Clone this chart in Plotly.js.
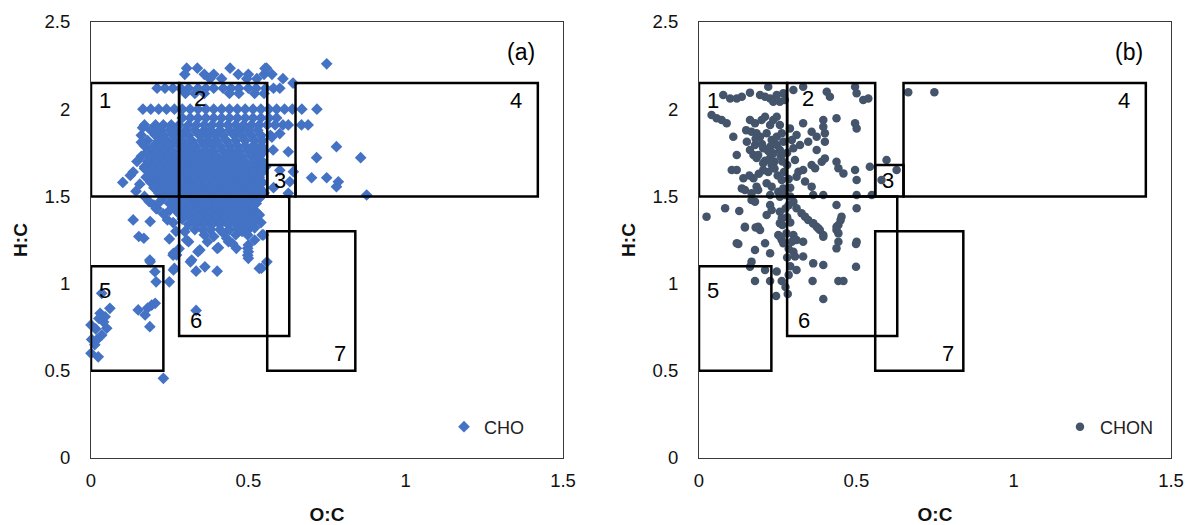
<!DOCTYPE html>
<html>
<head>
<meta charset="utf-8">
<script src="https://cdn.plot.ly/plotly-3.0.1.min.js"></script>
<style>html,body{margin:0;padding:0;background:#fff;}#chart{width:1191px;height:525px;}</style>
</head>
<body>
<div id="chart"></div>
<script>
// ---- Van Krevelen region boxes (O:C, H:C) ----
var boxX0 = [0, 0.28, 0.56, 0.65, 0, 0.28, 0.56];
var boxX1 = [0.28, 0.56, 0.65, 1.42, 0.23, 0.63, 0.84];
var boxY0 = [1.5, 1.5, 1.5, 1.5, 0.5, 0.7, 0.5];
var boxY1 = [2.15, 2.15, 1.68, 2.15, 1.1, 1.5, 1.3];
var boxLabels = ["1", "2", "3", "4", "5", "6", "7"];
var boxLabelX = [0.045, 0.345, 0.6, 1.35, 0.045, 0.333, 0.79];
var boxLabelY = [2.05, 2.06, 1.59, 2.05, 0.96, 0.79, 0.6];

// ---- CHO (a): rows of points [H:C, [O:C values]] ----
var choStripeRows = [
  [2.26, [0.749]],
  [2.235, [0.304, 0.338, 0.442, 0.558]],
  [2.2, [0.298, 0.36, 0.39, 0.468, 0.5, 0.55, 0.575]],
  [2.175, [0.378, 0.415, 0.495, 0.527, 0.61]],
  [2.15, [0.642]],
  [2.12, [0.21, 0.235, 0.26, 0.285, 0.31, 0.34, 0.365, 0.39, 0.42, 0.445, 0.47, 0.5, 0.525, 0.555, 0.58, 0.6]],
  [2.09, [0.3, 0.33, 0.36, 0.44, 0.47, 0.52, 0.55]],
  [2.0, [0.165, 0.19, 0.215, 0.24, 0.265, 0.29, 0.315, 0.34, 0.365, 0.39, 0.415, 0.44, 0.465, 0.49, 0.515, 0.54, 0.565, 0.59, 0.615, 0.64, 0.67, 0.718]],
  [1.95, [0.29, 0.315, 0.34, 0.365, 0.39, 0.415, 0.44, 0.465, 0.49, 0.515, 0.54, 0.565, 0.59]],
  [1.91, [0.17, 0.205, 0.23, 0.255, 0.28, 0.31, 0.335, 0.36, 0.385, 0.41, 0.435, 0.46, 0.485, 0.51, 0.535, 0.56, 0.585, 0.61, 0.627, 0.669, 0.69]]
];
var choBlobRows = [
  [1.88, [0.19, 0.22, 0.25, 0.27, 0.3, 0.33, 0.36, 0.38, 0.41, 0.44, 0.47, 0.5, 0.53]],
  [1.85, [0.16, 0.205, 0.23, 0.26, 0.285, 0.31, 0.345, 0.37, 0.395, 0.42, 0.455, 0.48, 0.51, 0.54, 0.57]],
  [1.82, [0.18, 0.215, 0.24, 0.265, 0.29, 0.32, 0.35, 0.375, 0.4, 0.43, 0.46, 0.49, 0.52, 0.545]],
  [1.79, [0.17, 0.2, 0.225, 0.25, 0.28, 0.305, 0.33, 0.36, 0.385, 0.41, 0.44, 0.465, 0.49, 0.515, 0.54]],
  [1.76, [0.185, 0.21, 0.235, 0.26, 0.29, 0.315, 0.34, 0.365, 0.39, 0.42, 0.445, 0.47, 0.5, 0.525, 0.55]],
  [1.73, [0.16, 0.195, 0.22, 0.245, 0.27, 0.3, 0.325, 0.35, 0.375, 0.4, 0.43, 0.455, 0.48, 0.51, 0.535]],
  [1.7, [0.18, 0.205, 0.23, 0.26, 0.285, 0.31, 0.335, 0.36, 0.39, 0.415, 0.44, 0.465, 0.49, 0.52, 0.545]],
  [1.67, [0.17, 0.195, 0.22, 0.245, 0.27, 0.3, 0.325, 0.35, 0.375, 0.4, 0.43, 0.455, 0.48, 0.505, 0.53, 0.555]],
  [1.64, [0.185, 0.21, 0.235, 0.26, 0.285, 0.31, 0.34, 0.365, 0.39, 0.415, 0.44, 0.47, 0.495, 0.52, 0.545]],
  [1.61, [0.175, 0.2, 0.225, 0.25, 0.275, 0.3, 0.325, 0.355, 0.38, 0.405, 0.43, 0.455, 0.48, 0.51, 0.535]],
  [1.58, [0.19, 0.215, 0.24, 0.265, 0.29, 0.315, 0.34, 0.365, 0.395, 0.42, 0.445, 0.47, 0.495, 0.52, 0.545]],
  [1.55, [0.2, 0.23, 0.255, 0.28, 0.305, 0.33, 0.355, 0.38, 0.405, 0.43, 0.46, 0.485, 0.51, 0.535]],
  [1.52, [0.215, 0.245, 0.27, 0.295, 0.32, 0.345, 0.37, 0.395, 0.42, 0.445, 0.47, 0.5, 0.525, 0.55]],
  [1.49, [0.23, 0.26, 0.285, 0.31, 0.335, 0.36, 0.385, 0.41, 0.435, 0.46, 0.485, 0.51, 0.535]],
  [1.46, [0.25, 0.275, 0.3, 0.325, 0.35, 0.375, 0.4, 0.425, 0.45, 0.475, 0.5, 0.525]],
  [1.43, [0.21, 0.265, 0.29, 0.315, 0.34, 0.365, 0.39, 0.415, 0.44, 0.465, 0.49, 0.515]],
  [1.4, [0.28, 0.305, 0.33, 0.355, 0.38, 0.405, 0.43, 0.455, 0.48, 0.505, 0.53]],
  [1.37, [0.29, 0.32, 0.345, 0.37, 0.395, 0.42, 0.445, 0.47, 0.495, 0.52]],
  [1.34, [0.31, 0.335, 0.36, 0.385, 0.41, 0.435, 0.46, 0.485, 0.51]],
  [1.31, [0.33, 0.355, 0.38, 0.41, 0.44, 0.47, 0.5]]
];
// CHO scattered points [O:C, H:C]
var choScatter = [
  [0.627, 1.756], [0.717, 1.722], [0.78, 1.785], [0.857, 1.722], [0.701, 1.607], [0.749, 1.607],
  [0.786, 1.584], [0.78, 1.556], [0.876, 1.508], [0.632, 1.584], [0.643, 1.642], [0.627, 1.518],
  [0.579, 1.766], [0.575, 1.84], [0.6, 1.86], [0.58, 1.55], [0.6, 1.65], [0.553, 2.234],
  [0.101, 1.58], [0.134, 1.64], [0.143, 1.53], [0.164, 1.894], [0.16, 1.81], [0.176, 1.75],
  [0.146, 1.7], [0.17, 1.66], [0.125, 1.62], [0.155, 1.57], [0.17, 1.5], [0.185, 1.47], [0.2, 1.45],
  [0.134, 1.365], [0.152, 1.27], [0.168, 1.26], [0.188, 1.356], [0.188, 1.125], [0.207, 1.01],
  [0.249, 1.01], [0.249, 1.256], [0.261, 1.163], [0.265, 1.087], [0.243, 1.365], [0.261, 1.35],
  [0.207, 1.43], [0.219, 1.47], [0.187, 1.135], [0.262, 1.078], [0.272, 1.164], [0.23, 1.4],
  [0.25, 1.42], [0.27, 1.3], [0.28, 1.2], [0.203, 1.068], [0.262, 1.174],
  [0.298, 1.298], [0.31, 1.24], [0.316, 1.125], [0.334, 1.071], [0.34, 1.183], [0.362, 1.096],
  [0.401, 1.071], [0.401, 1.202], [0.437, 1.24], [0.462, 1.202], [0.498, 1.163], [0.498, 1.202],
  [0.498, 1.279], [0.504, 1.346], [0.535, 1.087], [0.559, 1.125], [0.544, 1.279], [0.535, 1.394],
  [0.334, 0.846], [0.304, 1.25], [0.32, 1.135], [0.346, 1.193], [0.405, 1.206], [0.431, 1.26],
  [0.5, 1.221], [0.5, 1.183], [0.5, 1.145], [0.542, 1.088], [0.548, 1.279], [0.36, 1.28],
  [0.39, 1.27], [0.42, 1.29], [0.46, 1.28], [0.48, 1.3], [0.52, 1.32], [0.54, 1.35], [0.52, 1.25],
  [0.37, 1.24], [0.45, 1.23],
  [0.034, 0.944], [0.06, 0.858], [0.029, 0.83], [0.025, 0.8], [0.0, 0.763], [0.05, 0.744],
  [0.034, 0.705], [0.018, 0.677], [0.002, 0.68], [0.0, 0.6], [0.023, 0.58], [0.012, 0.65],
  [0.04, 0.78], [0.015, 0.74], [0.045, 0.81], [0.15, 0.849], [0.172, 0.82], [0.193, 0.877],
  [0.204, 0.887], [0.187, 0.753], [0.18, 0.86], [0.23, 0.457]
];

// ---- CHON (b): points [O:C, H:C] ----
var chonPoints = [
  [-0.005, 1.82], [0.04, 1.967], [0.056, 1.948], [0.072, 1.938], [0.088, 1.919],
  [0.077, 2.081], [0.099, 2.062], [0.12, 2.062], [0.136, 2.072], [0.162, 2.095], [0.194, 2.081],
  [0.21, 2.072], [0.22, 2.129], [0.226, 2.062], [0.236, 2.043], [0.247, 2.081], [0.257, 2.043],
  [0.268, 2.091], [0.273, 2.053], [0.3, 2.11], [0.331, 2.129], [0.406, 2.1], [0.416, 2.072],
  [0.496, 2.129], [0.501, 2.091], [0.522, 2.053], [0.538, 2.062], [0.665, 2.097], [0.748, 2.097],
  [0.109, 1.842], [0.162, 1.938], [0.167, 1.871], [0.178, 1.919], [0.199, 1.938], [0.21, 1.957],
  [0.226, 1.909], [0.236, 1.938], [0.247, 1.957], [0.257, 1.909], [0.183, 1.862], [0.194, 1.842],
  [0.215, 1.862], [0.231, 1.823], [0.247, 1.842], [0.263, 1.862], [0.152, 1.814], [0.162, 1.766],
  [0.178, 1.795], [0.204, 1.776], [0.226, 1.785], [0.236, 1.747], [0.247, 1.795], [0.257, 1.766],
  [0.268, 1.814], [0.289, 1.89], [0.295, 1.823], [0.3, 1.776], [0.31, 1.852], [0.321, 1.795],
  [0.331, 1.919], [0.347, 1.814], [0.358, 1.871], [0.374, 1.842], [0.374, 1.766], [0.395, 1.938],
  [0.395, 1.9], [0.4, 1.862], [0.4, 1.814], [0.437, 1.948], [0.496, 1.919], [0.501, 1.89],
  [0.12, 1.737], [0.15, 1.88], [0.18, 1.83], [0.2, 1.8], [0.22, 1.76], [0.24, 1.7], [0.26, 1.73],
  [0.28, 1.75], [0.28, 1.68],
  [0.104, 1.651], [0.12, 1.651], [0.141, 1.604], [0.136, 1.546], [0.146, 1.537], [0.173, 1.737],
  [0.183, 1.72], [0.188, 1.737], [0.204, 1.69], [0.21, 1.705], [0.226, 1.72], [0.231, 1.68],
  [0.204, 1.65], [0.22, 1.64], [0.173, 1.604], [0.183, 1.556], [0.167, 1.518], [0.188, 1.537],
  [0.215, 1.575], [0.231, 1.556], [0.226, 1.508], [0.252, 1.527], [0.263, 1.594], [0.268, 1.546],
  [0.257, 1.498], [0.273, 1.508], [0.16, 1.62], [0.19, 1.63], [0.25, 1.62], [0.24, 1.66],
  [0.265, 1.7], [0.27, 1.64], [0.285, 1.6], [0.29, 1.55], [0.29, 1.5],
  [0.305, 1.709], [0.316, 1.642], [0.31, 1.613], [0.331, 1.651], [0.337, 1.585], [0.358, 1.68],
  [0.369, 1.661], [0.39, 1.699], [0.4, 1.718], [0.437, 1.699], [0.443, 1.661], [0.459, 1.632],
  [0.496, 1.651], [0.501, 1.594], [0.543, 1.67], [0.358, 1.556], [0.363, 1.508], [0.395, 1.508],
  [0.437, 1.451], [0.501, 1.508], [0.549, 1.508], [0.596, 1.709], [0.628, 1.652], [0.58, 1.594],
  [0.024, 1.384], [0.083, 1.432], [0.128, 1.416], [0.167, 1.479], [0.178, 1.47], [0.226, 1.451],
  [0.231, 1.422], [0.215, 1.394], [0.257, 1.412], [0.263, 1.374], [0.257, 1.346], [0.252, 1.279],
  [0.263, 1.25], [0.278, 1.288], [0.146, 1.326], [0.188, 1.326], [0.194, 1.307], [0.12, 1.231],
  [0.285, 1.45], [0.275, 1.43], [0.28, 1.38], [0.29, 1.35],
  [0.3, 1.47], [0.31, 1.432], [0.326, 1.403], [0.337, 1.384], [0.347, 1.365], [0.363, 1.346],
  [0.374, 1.326], [0.384, 1.307], [0.395, 1.279], [0.3, 1.279], [0.31, 1.25], [0.453, 1.384],
  [0.443, 1.336], [0.437, 1.307], [0.501, 1.432], [0.501, 1.24],
  [0.125, 1.227], [0.146, 1.322], [0.18, 1.322], [0.178, 1.193], [0.21, 1.231], [0.226, 1.174],
  [0.167, 1.126], [0.162, 1.097], [0.21, 1.078], [0.178, 1.015], [0.226, 1.015], [0.247, 1.069],
  [0.263, 1.015], [0.245, 0.929], [0.282, 0.94], [0.258, 1.269], [0.265, 1.336], [0.268, 1.231],
  [0.295, 1.24], [0.3, 1.183], [0.305, 1.155], [0.31, 1.078], [0.331, 1.24], [0.331, 1.155],
  [0.363, 1.345], [0.379, 1.317], [0.395, 1.269], [0.363, 1.116], [0.395, 1.107], [0.361, 1.015],
  [0.395, 0.912], [0.437, 1.326], [0.443, 1.288], [0.443, 1.24], [0.437, 1.202], [0.45, 1.364],
  [0.443, 1.015], [0.459, 1.015], [0.499, 1.227], [0.499, 1.097],
  [0.285, 1.2], [0.28, 1.15], [0.29, 1.1], [0.285, 1.05], [0.275, 0.98]
];

var xTicks = [0, 0.5, 1, 1.5];
var yTicks = [0, 0.5, 1, 1.5, 2, 2.5];
var panelTags = ["(a)", "(b)"];
var seriesNames = ["CHO", "CHON"];
var seriesColors = ["#4472C4", "#44546A"];

// ---- build traces ----
var choX = [], choY = [];
choStripeRows.concat(choBlobRows).forEach(function (r) {
  r[1].forEach(function (x) { choX.push(x); choY.push(r[0]); });
});
choScatter.forEach(function (p) { choX.push(p[0]); choY.push(p[1]); });
var chonX = chonPoints.map(function (p) { return p[0]; });
var chonY = chonPoints.map(function (p) { return p[1]; });

var FONT = "Liberation Sans, Arial, sans-serif";
var traces = [
  { type: "scatter", mode: "markers", x: choX, y: choY, name: seriesNames[0], xaxis: "x", yaxis: "y",
    marker: { symbol: "diamond", size: 9, color: seriesColors[0] }, legend: "legend", cliponaxis: false },
  { type: "scatter", mode: "markers", x: chonX, y: chonY, name: seriesNames[1], xaxis: "x2", yaxis: "y2",
    marker: { symbol: "circle", size: 8.5, color: seriesColors[1] }, legend: "legend2", cliponaxis: false }
];

var W = 1191, H = 525;
function ax(domain, title, anchor, isY) {
  return {
    domain: domain, anchor: anchor, range: isY ? [0, 2.5] : [0, 1.5],
    tickvals: isY ? yTicks : xTicks, ticktext: (isY ? yTicks : xTicks).map(String),
    showgrid: false, zeroline: false, showline: true, mirror: true, linecolor: "#3a3a3a", linewidth: 1,
    ticks: "", ticklabelstandoff: isY ? 16 : 6,
    tickfont: { family: FONT, size: 18.5, color: "#111" },
    title: { text: "<b>" + title + "</b>", font: { family: FONT, size: 19, color: "#111" }, standoff: isY ? 11 : 18 },
    fixedrange: true
  };
}
var yDom = [(H - 458) / H, (H - 22) / H];
var layout = {
  width: W, height: H, margin: { l: 0, r: 0, t: 0, b: 0 },
  paper_bgcolor: "#fff", plot_bgcolor: "#fff", showlegend: true,
  xaxis: ax([91 / W, 563 / W], "O:C", "y", false),
  yaxis: ax(yDom, "H:C", "x", true),
  xaxis2: ax([699 / W, 1171 / W], "O:C", "y2", false),
  yaxis2: ax(yDom, "H:C", "x2", true),
  legend: { x: 444 / W, y: (H - 427) / H, xanchor: "left", yanchor: "middle", itemwidth: 30,
    font: { family: FONT, size: 18, color: "#222" }, bgcolor: "rgba(0,0,0,0)" },
  legend2: { x: 1060 / W, y: (H - 427) / H, xanchor: "left", yanchor: "middle", itemwidth: 30,
    font: { family: FONT, size: 18, color: "#222" }, bgcolor: "rgba(0,0,0,0)" },
  shapes: [], annotations: []
};
["", "2"].forEach(function (s, k) {
  for (var i = 0; i < boxLabels.length; i++) {
    layout.shapes.push({ type: "rect", xref: "x" + s, yref: "y" + s, x0: boxX0[i], x1: boxX1[i], y0: boxY0[i], y1: boxY1[i],
      line: { color: "#000", width: 2.5 }, fillcolor: "rgba(0,0,0,0)", layer: "above" });
    layout.annotations.push({ xref: "x" + s, yref: "y" + s, x: boxLabelX[i], y: boxLabelY[i], text: boxLabels[i],
      showarrow: false, font: { family: FONT, size: 22, color: "#000" } });
  }
  layout.annotations.push({ xref: "x" + s, yref: "y" + s, x: 1.367, y: 2.33, text: panelTags[k],
    showarrow: false, font: { family: FONT, size: 23, color: "#000" } });
});
Plotly.newPlot("chart", traces, layout, { staticPlot: true });
</script>
</body>
</html>
